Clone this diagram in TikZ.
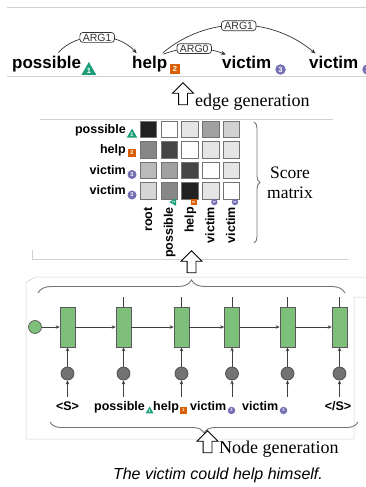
\documentclass[tikz,border=0pt]{standalone}
\usepackage{fontspec}
\setmainfont{Liberation Serif}
\setsansfont{Liberation Sans}
\usepackage{tikz}
\usetikzlibrary{arrows.meta, positioning, calc, shapes.geometric, shapes.arrows, decorations.pathreplacing}

\definecolor{badgeGreen}{HTML}{1B9E77}
\definecolor{badgeOrange}{HTML}{D95F02}
\definecolor{badgePurple}{HTML}{7570B3}
\definecolor{cellGreen}{HTML}{7EC07B}

\tikzset{
  word/.style={font=\sffamily\bfseries\fontsize{17}{20}\selectfont, inner sep=0pt},
  smallword/.style={font=\sffamily\bfseries\fontsize{12.5}{15}\selectfont, inner sep=0pt},
  colword/.style={smallword, rotate=90, anchor=base east},
  badge/.style={text=white, inner sep=0pt},
  bigbadge/.style={font=\sffamily\bfseries\fontsize{7.5}{7.5}\selectfont},
  midbadge/.style={font=\sffamily\bfseries\fontsize{5.5}{5.5}\selectfont},
  tinybadge/.style={font=\sffamily\bfseries\fontsize{4}{4}\selectfont},
  tri/.style={badge, regular polygon, regular polygon sides=3, fill=badgeGreen, minimum size=#1},
  sq/.style={badge, rectangle, fill=badgeOrange, minimum size=#1},
  circ/.style={badge, circle, fill=badgePurple, minimum size=#1},
  arglabel/.style={draw, rounded corners=3pt, fill=white, font=\sffamily\fontsize{10.5}{11}\selectfont, inner xsep=3pt, inner ysep=1.2pt},
  argarc/.style={->, black!80, line width=0.7pt, shorten <=4pt, shorten >=3pt},
  blockup/.style={single arrow, draw, fill=white, rotate=90, minimum height=22pt, minimum width=20pt, single arrow head extend=6pt, inner sep=4pt, line width=0.8pt},
  serifnote/.style={font=\fontsize{18}{21}\selectfont, inner sep=0pt},
  cell/.style={draw=black!55, minimum size=16.5pt, inner sep=0pt, line width=0.6pt},
  faint/.style={draw=black!18, line width=0.5pt},
  lstm/.style={draw=black!65, fill=cellGreen, minimum width=15pt, minimum height=40pt, inner sep=0pt, line width=0.7pt},
  initstate/.style={circle, draw=black!65, fill=cellGreen, minimum size=13pt, inner sep=0pt, line width=0.7pt},
  embed/.style={circle, draw=black!70, fill=black!55, minimum size=13pt, inner sep=0pt, line width=0.7pt},
  flow/.style={-{Stealth[length=4pt, width=3.5pt]}, black!75, line width=0.7pt},
  bracket/.style={decorate, draw=black!55, line width=0.9pt}
}

\begin{document}
\begin{tikzpicture}[x=1pt, y=-1pt, >={Stealth[length=5pt, width=4pt]}]
  \useasboundingbox (0,0) rectangle (366,487);

  % graph on top
  \draw[faint] (7,7) -- (366,7);
  \draw[faint] (7,76) -- (366,76);
  \node[word, anchor=base west] (top1) at (12,68) {possible};
  \node[tri=17pt, bigbadge] (top1b) at ($(top1.base east)+(7.5,2.5)$) {1};
  \node[word, anchor=base west] (top2) at (132,68) {help};
  \node[sq=10pt, bigbadge] (top2b) at ($(top2.base east)+(7.5,1)$) {2};
  \node[word, anchor=base west] (top3) at (222,68) {victim};
  \node[circ=10.5pt, bigbadge] (top3b) at ($(top3.base east)+(9,1.5)$) {3};
  \node[word, anchor=base west] (top4) at (309,68) {victim};
  \node[circ=10.5pt, bigbadge] (top4b) at ($(top4.base east)+(9,1.5)$) {3};
  \draw[argarc] ([xshift=9pt]top1.north) to[bend left=48] node[arglabel] (arg1a) {ARG1} ([xshift=-11pt]top2.north);
  \draw[argarc] ([xshift=10pt]top2.north) to[bend left=20] node[arglabel] (arg0) {ARG0} ([xshift=-18pt]top3.north);
  \draw[argarc] ([xshift=10pt]top2.north) to[bend left=40] node[arglabel] (arg1b) {ARG1} ([xshift=-16pt]top4.north);

  \node[blockup] (edgearr) at (183,96) {};
  \node[serifnote, anchor=base west] (edgetxt) at (195,106) {edge generation};

  % score matrix
  \draw[faint] (40,119) -- (333,119);
  \draw[faint] (32,250) -- (32,259) -- (348,259);
  \foreach \r/\c/\s in {1/1/87, 1/2/0, 1/3/10, 1/4/37, 1/5/18,
                        2/1/47, 2/2/73, 2/3/0, 2/4/10, 2/5/10,
                        3/1/27, 3/2/37, 3/3/73, 3/4/0, 3/5/10,
                        4/1/16, 4/2/47, 4/3/87, 4/4/10, 4/5/0}
    \node[cell, fill=black!\s] (m\r\c) at ({127.75+20.75*\c}, {109+20.5*\r}) {};

  \node[smallword, anchor=base east] (row1) at (126,133) {possible};
  \node[tri=12pt, midbadge] (row1b) at ($(row1.base east)+(6,1.5)$) {1};
  \node[smallword, anchor=base east] (row2) at (126,153.5) {help};
  \node[sq=8.5pt, midbadge] (row2b) at ($(row2.base east)+(6,-0.5)$) {2};
  \node[smallword, anchor=base east] (row3) at (126,174) {victim};
  \node[circ=9pt, midbadge] (row3b) at ($(row3.base east)+(6,0.5)$) {3};
  \node[smallword, anchor=base east] (row4) at (126,194.5) {victim};
  \node[circ=9pt, midbadge] (row4b) at ($(row4.base east)+(6,0.5)$) {3};

  \node[colword] (col1) at (152,207) {root};
  \node[colword] (col2) at (172.8,207) {possible};
  \node[tri=9pt, tinybadge, rotate=90] (col2b) at ($(col2.base east)+(1,-5)$) {1};
  \node[colword] (col3) at (193.5,207) {help};
  \node[sq=6pt, tinybadge, rotate=90] (col3b) at ($(col3.base east)+(0,-5)$) {2};
  \node[colword] (col4) at (214.3,207) {victim};
  \node[circ=6.5pt, tinybadge, rotate=90] (col4b) at ($(col4.base east)+(0,-5)$) {3};
  \node[colword] (col5) at (235,207) {victim};
  \node[circ=6.5pt, tinybadge, rotate=90] (col5b) at ($(col5.base east)+(0,-5)$) {3};

  \draw[bracket, decoration={brace, amplitude=6pt}] (254,122) -- (254,243);
  \node[serifnote, font=\fontsize{17.5}{20}\selectfont, align=center] (scoretxt) at (290,183) {Score\\matrix};

  \node[blockup] (scorearr) at (191.5,264) {};

  % node generation
  \draw[faint] (366,277) -- (36,277) -- (26,282) -- (26,439) -- (354,439) -- (354,297) -- (366,297);
  \draw[bracket, decoration={brace, amplitude=13pt}] (38,293) -- (345,293);
  \coordinate (stub) at (0,297);
  \node[initstate] (h0) at (35,327) {};
  \foreach \i/\x in {1/67.5, 2/123.5, 3/181.5, 4/232, 5/287.5, 6/339.5} {
    \node[lstm] (r\i) at (\x,327) {};
    \node[embed] (e\i) at (\x,373.5) {};
    \draw[flow] (e\i) -- (r\i);
  }
  \draw[flow] (h0) -- (r1);
  \foreach \i/\j in {1/2, 2/3, 3/4, 4/5, 5/6}
    \draw[flow] (r\i) -- (r\j);
  \foreach \i in {2,...,6}
    \draw[black!75, line width=0.7pt] (r\i.north) -- (r\i |- stub);

  \node[smallword, anchor=base] (t1) at (67.5,410) {<S>};
  \node[smallword, anchor=base west] (t2) at (94,410) {possible};
  \node[tri=9pt, tinybadge] (t2b) at ($(t2.base east)+(4.5,1)$) {1};
  \node[smallword, anchor=base west] (t3) at (153,410) {help};
  \node[sq=7pt, tinybadge] (t3b) at ($(t3.base east)+(4.5,0)$) {2};
  \node[smallword, anchor=base west] (t4) at (190,410) {victim};
  \node[circ=7.5pt, tinybadge] (t4b) at ($(t4.base east)+(5,0.5)$) {3};
  \node[smallword, anchor=base west] (t5) at (242,410) {victim};
  \node[circ=7.5pt, tinybadge] (t5b) at ($(t5.base east)+(5,0.5)$) {3};
  \node[smallword, anchor=base] (t6) at (338,410) {</S>};
  \foreach \i in {1,...,6}
    \draw[flow, shorten <=4pt] (e\i |- t\i.north) -- (e\i);

  \draw[bracket, decoration={brace, amplitude=11pt}] (358,422) -- (50,422);
  \node[blockup] (nodearr) at (207.5,444) {};
  \node[serifnote, anchor=base west] (nodetxt) at (219,453) {Node generation};

  \node[font=\sffamily\itshape\fontsize{16}{18}\selectfont, anchor=base, inner sep=0pt] (sentence) at (218,479) {The victim could help himself.};
\end{tikzpicture}
\end{document}
